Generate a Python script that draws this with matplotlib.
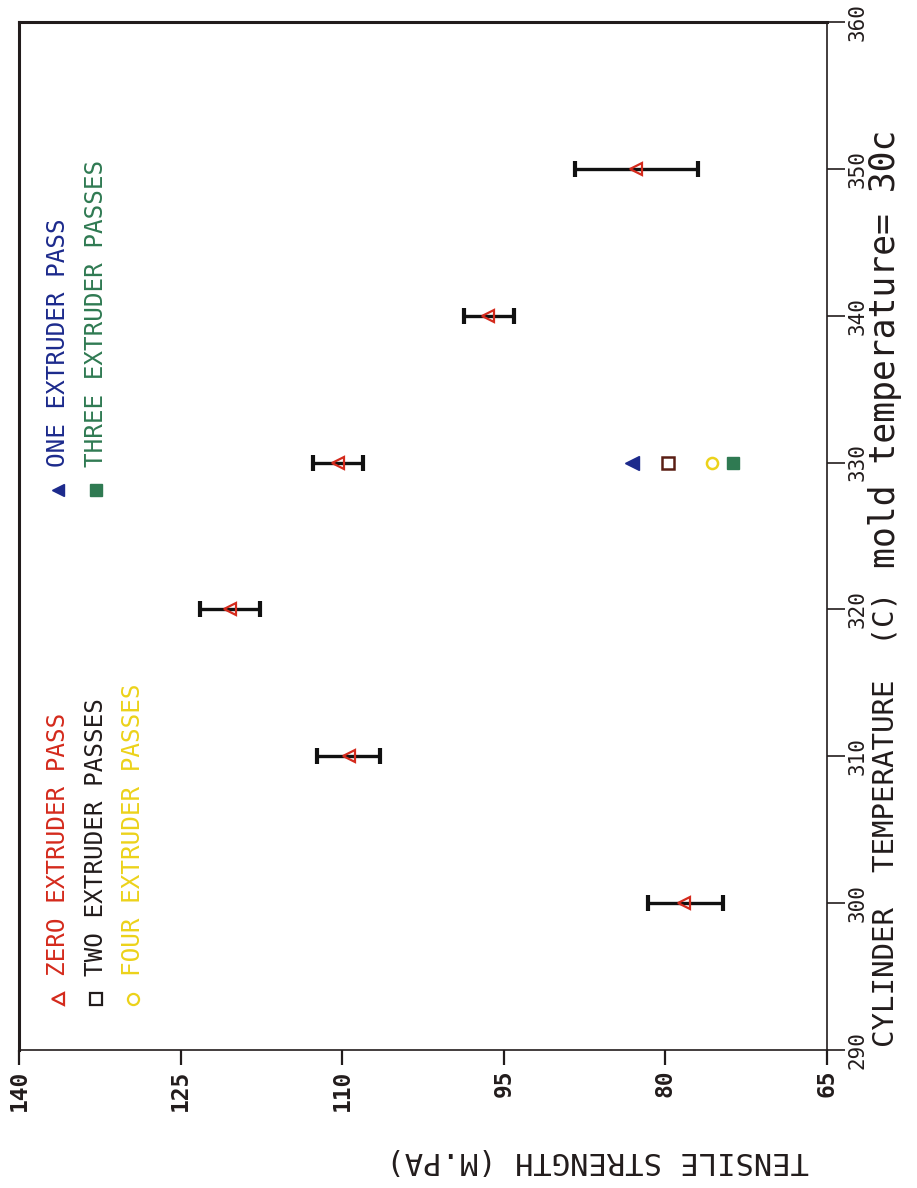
import matplotlib
matplotlib.use("Agg")
import matplotlib.pyplot as plt

# cylinder temperature (C) and tensile strength (MPa), zero extruder passes
temps = [300, 310, 320, 330, 340, 350]
zero_mean = [78.3, 109.4, 120.4, 110.4, 96.5, 82.7]
zero_low = [74.7, 106.5, 117.6, 108.1, 94.1, 77.0]
zero_high = [81.6, 112.3, 123.2, 112.7, 98.7, 88.4]

# single runs at 330 C
pass_temp = 330
one_pass = 83.1
two_pass = 79.8
three_pass = 73.7
four_pass = 75.7

temp_ticks = [290, 300, 310, 320, 330, 340, 350, 360]
strength_ticks = [140, 125, 110, 95, 80, 65]

FONT = "DejaVu Sans Mono"
RED = "#d42a1c"
BLUE = "#1c2a8c"
BROWN = "#5a1e14"
YELLOW = "#ecd21a"
GREEN = "#2f7a52"
INK = "#221c1c"

plt.rcParams["font.family"] = FONT

fig = plt.figure(figsize=(9.17, 11.88), dpi=100)
ax = fig.add_axes([0.0207, 0.1162, 0.8812, 0.8653])
ax.set_xlim(140, 65)
ax.set_ylim(290, 360)

xerr = [[m - lo for m, lo in zip(zero_mean, zero_low)],
        [hi - m for m, hi in zip(zero_mean, zero_high)]]
ax.errorbar(zero_mean, temps, xerr=xerr, fmt="none", ecolor="#111111",
            elinewidth=2.4, capsize=6, capthick=3, zorder=2)
ax.plot(zero_mean, temps, ls="none", marker="<", mfc="none", mec=RED,
        ms=9, mew=1.6, zorder=3)

ax.plot([one_pass], [pass_temp], ls="none", marker="<", color=BLUE, ms=10, zorder=3)
ax.plot([two_pass], [pass_temp], ls="none", marker="s", mfc="none", mec=BROWN,
        ms=9, mew=1.8, zorder=3)
ax.plot([four_pass], [pass_temp], ls="none", marker="o", mfc="none", mec=YELLOW,
        ms=8, mew=1.8, zorder=3)
ax.plot([three_pass], [pass_temp], ls="none", marker="s", color=GREEN, ms=9, zorder=3)

# legend drawn by hand, rotated like the rest of the sheet
legend_rows = [
    (0.048, 0.050, "<", dict(mfc="none", mec=RED, mew=1.6), "ZERO EXTRUDER PASS", RED),
    (0.095, 0.050, "s", dict(mfc="none", mec=INK, mew=1.6), "TWO EXTRUDER PASSES", INK),
    (0.141, 0.050, "o", dict(mfc="none", mec=YELLOW, mew=1.6), "FOUR EXTRUDER PASSES", YELLOW),
    (0.048, 0.545, "<", dict(color=BLUE), "ONE EXTRUDER PASS", BLUE),
    (0.095, 0.545, "s", dict(color=GREEN), "THREE EXTRUDER PASSES", GREEN),
]
for lx, ly, mk, mstyle, label, col in legend_rows:
    ax.plot([lx], [ly], ls="none", marker=mk, ms=8, transform=ax.transAxes,
            clip_on=False, **mstyle)
    ax.text(lx, ly + 0.022, label, transform=ax.transAxes, rotation=90,
            rotation_mode="anchor", ha="left", va="center", color=col, fontsize=17.5)

for side in ["left", "top"]:
    ax.spines[side].set_linewidth(2.2)
    ax.spines[side].set_color(INK)
for side in ["right", "bottom"]:
    ax.spines[side].set_linewidth(1.2)
    ax.spines[side].set_color(INK)

ax.yaxis.tick_right()
ax.set_yticks(temp_ticks)
ax.set_yticklabels([str(t) for t in temp_ticks])
ax.set_xticks(strength_ticks)
ax.set_xticklabels([str(s) for s in strength_ticks])
ax.tick_params(axis="y", direction="out", length=13, width=1.2, colors=INK,
               labelsize=15, pad=2)
ax.tick_params(axis="x", direction="out", length=11, width=1.6, colors=INK,
               labelsize=16.5, pad=3)
plt.setp(ax.get_yticklabels(), rotation=90, va="center", ha="left")
plt.setp(ax.get_xticklabels(), rotation=90, ha="center", va="top", fontweight="bold")

ytr = ax.get_yaxis_transform()
ax.text(1.072, 290.2, "CYLINDER  TEMPERATURE  (C)", transform=ytr, rotation=90,
        rotation_mode="anchor", ha="left", va="center", fontsize=21, color=INK)
ax.text(1.072, 322.8, "mold temperature= 30c", transform=ytr, rotation=90,
        rotation_mode="anchor", ha="left", va="center", fontsize=25, color=INK)

fig.text(598 / 917, 1 - 1160 / 1188, "TENSILE STRENGTH (M.PA)", rotation=180,
         ha="center", va="center", fontsize=22, color=INK)

fig.savefig("out.png", dpi=100, facecolor="white")
